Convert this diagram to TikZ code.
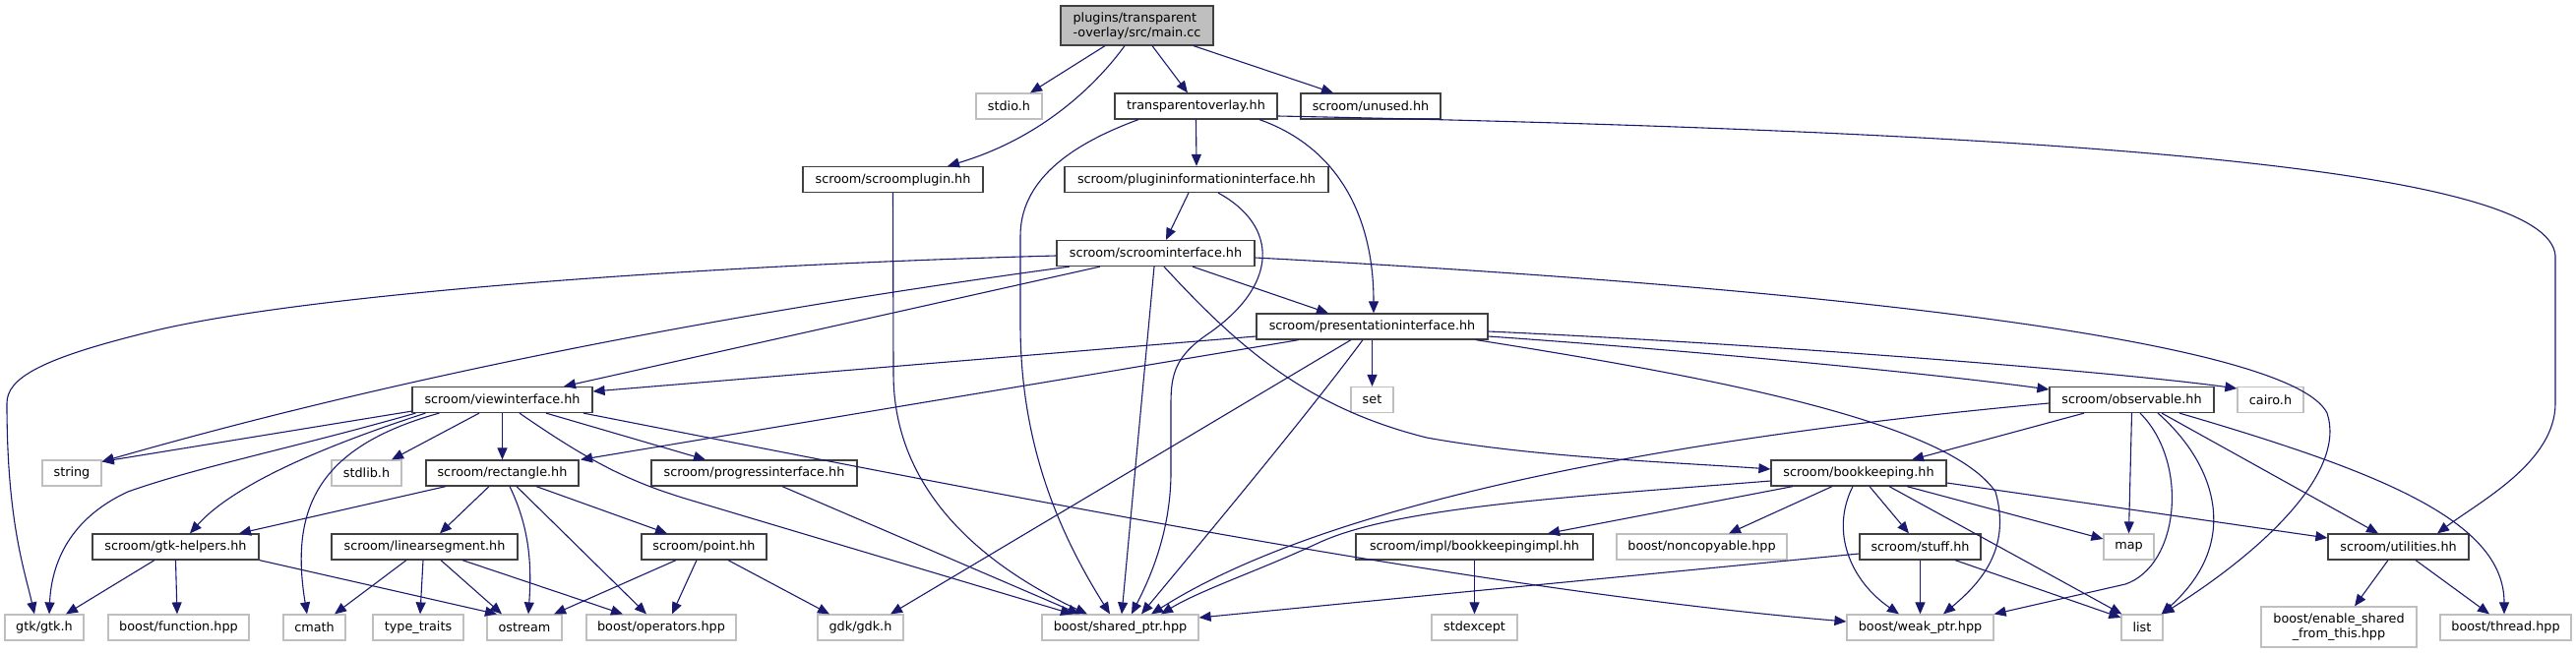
\documentclass[tikz,border=0pt]{standalone}
\usepackage{fontspec}
\setmainfont{DejaVu Sans}
\usetikzlibrary{arrows.meta}
\definecolor{eblue}{HTML}{191970}
\definecolor{dgray}{HTML}{404040}
\definecolor{lgray}{HTML}{BFBFBF}
\newcommand\nodefont{\fontsize{12.8pt}{15pt}\selectfont}
\begin{document}
\begin{tikzpicture}[x=1pt,y=-1pt,
  doc/.style={draw=dgray, line width=1.2pt, fill=white, minimum height=26pt, inner sep=0pt, font=\nodefont, text=black},
  ext/.style={draw=lgray, line width=1.2pt, fill=white, minimum height=26pt, inner sep=0pt, font=\nodefont, text=black},
  edge/.style={draw=eblue, line width=1.1pt, -{Triangle[length=12pt,width=10pt]}, fill=none},
]
\useasboundingbox (0,0) rectangle (2618,664);
% nodes
\node[doc, fill=lgray, minimum width=155pt, minimum height=40pt, align=left] (main) at (1155.5,26) {plugins/transparent\\-overlay/src/main.cc};
\node[ext, minimum width=67pt] (stdio) at (1025.5,108) {stdio.h};
\node[doc, minimum width=165pt] (tov) at (1215.5,108) {transparentoverlay.hh};
\node[doc, minimum width=142pt] (unused) at (1393,108) {scroom/unused.hh};
\node[doc, minimum width=183pt] (splugin) at (907.5,182.5) {scroom/scroomplugin.hh};
\node[doc, minimum width=268pt] (pinfo) at (1216,182.5) {scroom/plugininformationinterface.hh};
\node[doc, minimum width=201pt] (sif) at (1174.5,257.5) {scroom/scroominterface.hh};
\node[doc, minimum width=235pt] (pres) at (1394.5,332) {scroom/presentationinterface.hh};
\node[doc, minimum width=183pt] (view) at (510.5,406.5) {scroom/viewinterface.hh};
\node[ext, minimum width=43pt] (set) at (1394.5,406.5) {set};
\node[doc, minimum width=167pt] (obs) at (2166.5,406.5) {scroom/observable.hh};
\node[ext, minimum width=67pt] (cairo) at (2307.5,406.5) {cairo.h};
\node[ext, minimum width=60pt] (string) at (73,481) {string};
\node[ext, minimum width=71pt] (stdlib) at (372.5,481) {stdlib.h};
\node[doc, minimum width=155pt] (rect) at (510.5,481) {scroom/rectangle.hh};
\node[doc, minimum width=209pt] (prog) at (766.5,481) {scroom/progressinterface.hh};
\node[doc, minimum width=178pt] (bk) at (1889,481) {scroom/bookkeeping.hh};
\node[doc, minimum width=169pt] (gtkh) at (178.5,556) {scroom/gtk-helpers.hh};
\node[doc, minimum width=189pt] (lin) at (431.5,556) {scroom/linearsegment.hh};
\node[doc, minimum width=127pt] (point) at (715.5,556) {scroom/point.hh};
\node[doc, minimum width=241pt] (bki) at (1498.5,556) {scroom/impl/bookkeepingimpl.hh};
\node[ext, minimum width=173pt] (noncopy) at (1729.5,556) {boost/noncopyable.hpp};
\node[doc, minimum width=123pt] (stuff) at (1951.5,556) {scroom/stuff.hh};
\node[ext, minimum width=51pt] (map) at (2163.5,556) {map};
\node[doc, minimum width=143pt] (util) at (2437.5,556) {scroom/utilities.hh};
\node[ext, minimum width=80pt] (gtk) at (45,638) {gtk/gtk.h};
\node[ext, minimum width=143pt] (func) at (181.5,638) {boost/function.hpp};
\node[ext, minimum width=63pt] (cmath) at (319.5,638) {cmath};
\node[ext, minimum width=92pt] (tt) at (425,638) {type\_traits};
\node[ext, minimum width=76pt] (ostream) at (533,638) {ostream};
\node[ext, minimum width=152pt] (ops) at (672,638) {boost/operators.hpp};
\node[ext, minimum width=87pt] (gdk) at (874.5,638) {gdk/gdk.h};
\node[ext, minimum width=159pt] (sp) at (1138.5,638) {boost/shared\_ptr.hpp};
\node[ext, minimum width=87pt] (stdexc) at (1498.5,638) {stdexcept};
\node[ext, minimum width=149pt] (wp) at (1951.5,638) {boost/weak\_ptr.hpp};
\node[ext, minimum width=42pt] (list) at (2177,638) {list};
\node[ext, minimum width=158pt, minimum height=41pt, align=center] (esft) at (2377,637.5) {boost/enable\_shared\\\_from\_this.hpp};
\node[ext, minimum width=133pt] (thread) at (2546.5,638) {boost/thread.hpp};
% main
\draw[edge] ([xshift=-32.5pt]main.south) -- ([xshift=21.5pt]stdio.north);
\draw[edge] ([xshift=-12.5pt]main.south) .. controls (1115,85) and (1060,140) .. ([xshift=55.5pt]splugin.north);
\draw[edge] ([xshift=15.5pt]main.south) -- ([xshift=-8.5pt]tov.north);
\draw[edge] ([xshift=57.5pt]main.south) -- ([xshift=-38pt]unused.north);
% transparentoverlay
\draw[edge] (tov.south) -- (pinfo.north);
\draw[edge] ([xshift=64.5pt]tov.south) .. controls (1360,150) and (1396,220) .. ([xshift=1.5pt]pres.north);
\draw[edge] ([xshift=-58.5pt]tov.south) .. controls (1085,148) and (1037,185) .. (1037,240) -- (1037,330) .. controls (1037,450) and (1075,540) .. ([xshift=-10.5pt]sp.north);
\draw[edge] ([yshift=-10pt]tov.east) .. controls (2150,135) and (2590,175) .. (2597,260) -- (2597,410) .. controls (2597,470) and (2520,510) .. ([xshift=39.5pt]util.north);
% scroomplugin
\draw[edge] (splugin.south) -- (908,380) .. controls (908,500) and (1000,575) .. ([xshift=-33.5pt]sp.north);
% plugininformationinterface
\draw[edge] ([xshift=-8pt]pinfo.south) -- ([xshift=10.5pt]sif.north);
\draw[edge] ([xshift=22pt]pinfo.south) .. controls (1300,230) and (1300,290) .. (1227,340) .. controls (1195,362) and (1190,380) .. (1190,410) -- (1190,480) .. controls (1190,545) and (1165,595) .. ([xshift=11.5pt]sp.north);
% scroominterface
\draw[edge] ([yshift=-2.5pt]sif.west) .. controls (700,270) and (300,300) .. (150,338) .. controls (40,365) and (7,385) .. (7,410) .. controls (7,530) and (25,580) .. ([xshift=-10pt]gtk.north);
\draw[edge] ([xshift=-87.5pt]sif.south) .. controls (800,310) and (450,370) .. ([yshift=-2pt]string.north east);
\draw[edge] ([xshift=-56.5pt]sif.south) -- ([xshift=62.5pt]view.north);
\draw[edge] ([xshift=37.5pt]sif.south) -- ([xshift=-44.5pt]pres.north);
\draw[edge] ([xshift=-1.5pt]sif.south) -- ([xshift=1.5pt]sp.north);
\draw[edge] ([xshift=8.5pt]sif.south) .. controls (1260,355) and (1330,415) .. (1450,445) .. controls (1560,465) and (1700,470) .. ([yshift=4pt]bk.west);
\draw[edge] ([yshift=-4.5pt]sif.east) .. controls (1900,295) and (2330,350) .. (2365,420) .. controls (2385,480) and (2300,560) .. ([xshift=-1pt]list.north east);
% presentationinterface
\draw[edge] ([yshift=-10pt]pres.west) -- ([yshift=8.5pt]view.east);
\draw[edge] ([xshift=-74.5pt]pres.south) -- ([xshift=79.5pt]rect.north);
\draw[edge] (pres.south) -- (set.north);
\draw[edge] ([xshift=-21.5pt]pres.south) -- ([xshift=30.5pt]gdk.north);
\draw[edge] ([xshift=-9.5pt]pres.south) .. controls (1330,420) and (1230,540) .. ([xshift=21.5pt]sp.north);
\draw[edge] ([yshift=-10pt]pres.east) .. controls (1700,355) and (1950,378) .. ([yshift=10.5pt]obs.west);
\draw[edge] ([yshift=-5pt]pres.east) .. controls (1800,350) and (2150,378) .. ([yshift=11.5pt]cairo.west);
\draw[edge] ([xshift=105.5pt]pres.south) .. controls (1750,385) and (1980,430) .. (2028,500) .. controls (2045,560) and (2010,595) .. ([xshift=23.5pt]wp.north);
% viewinterface
\draw[edge] ([yshift=2pt]view.south west) -- ([yshift=-2pt]string.north east);
\draw[edge] ([xshift=4pt]view.south west) .. controls (300,455) and (200,475) .. (130,500) .. controls (65,530) and (52,580) .. ([xshift=5pt]gtk.north);
\draw[edge] ([xshift=14pt]view.south west) .. controls (340,450) and (240,490) .. ([xshift=14.5pt]gtkh.north);
\draw[edge] ([xshift=28pt]view.south west) .. controls (320,455) and (295,520) .. ([xshift=-7.5pt]cmath.north);
\draw[edge] ([xshift=-23.5pt]view.south) -- ([xshift=25.5pt]stdlib.north);
\draw[edge] (view.south) -- (rect.north);
\draw[edge] ([xshift=44.5pt]view.south) -- ([xshift=-49.5pt]prog.north);
\draw[edge] ([xshift=17.5pt]view.south) .. controls (600,470) and (640,490) .. (700,508) -- ([xshift=-48.5pt]sp.north);
\draw[edge] ([xshift=82.5pt]view.south) .. controls (1000,500) and (1500,600) .. ([yshift=6pt]wp.west);
% rectangle
\draw[edge] ([xshift=-57.5pt]rect.south) -- ([xshift=64.5pt]gtkh.north);
\draw[edge] ([xshift=-13.5pt]rect.south) -- ([xshift=15.5pt]lin.north);
\draw[edge] ([xshift=7.5pt]rect.south) .. controls (540,540) and (540,580) .. ([xshift=4pt]ostream.north);
\draw[edge] ([xshift=14.5pt]rect.south) -- ([xshift=-15pt]ops.north);
\draw[edge] ([xshift=34.5pt]rect.south) -- ([xshift=-37.5pt]point.north);
% progressinterface
\draw[edge] ([xshift=28.5pt]prog.south) -- ([xshift=-41.5pt]sp.north);
% gtk-helpers
\draw[edge] ([xshift=-21.5pt]gtkh.south) -- ([xshift=22pt]gtk.north);
\draw[edge] (gtkh.south) -- ([xshift=-1.5pt]func.north);
\draw[edge] (gtkh.south east) -- ([xshift=-28pt]ostream.north);
% linearsegment
\draw[edge] ([xshift=-18.5pt]lin.south) -- ([xshift=20.5pt]cmath.north);
\draw[edge] ([xshift=-1.5pt]lin.south) -- ([xshift=2pt]tt.north);
\draw[edge] ([xshift=16.5pt]lin.south) -- ([xshift=-23pt]ostream.north);
\draw[edge] ([xshift=38.5pt]lin.south) -- ([xshift=-39pt]ops.north);
% point
\draw[edge] ([xshift=-28.5pt]point.south) -- ([xshift=30pt]ostream.north);
\draw[edge] ([xshift=-7.5pt]point.south) -- ([xshift=11pt]ops.north);
\draw[edge] ([xshift=24.5pt]point.south) -- ([xshift=-31.5pt]gdk.north);
% observable
\draw[edge] ([xshift=-48.5pt]obs.south) -- ([xshift=54pt]bk.north);
\draw[edge] (obs.south) -- (map.north);
\draw[edge] ([xshift=8.5pt]obs.south) .. controls (2225,470) and (2215,575) .. (2160,594) -- (wp.north east);
\draw[edge] ([xshift=26.5pt]obs.south) .. controls (2250,470) and (2280,550) .. ([xshift=-2pt]list.north east);
\draw[edge] ([xshift=30.5pt]obs.south) -- ([xshift=-20.5pt]util.north);
\draw[edge] ([xshift=48.5pt]obs.south) .. controls (2420,480) and (2545,530) .. ([xshift=-1.5pt]thread.north);
\draw[edge] ([yshift=-3.5pt]obs.west) .. controls (1700,445) and (1350,510) .. ([xshift=31.5pt]sp.north);
% bookkeeping
\draw[edge] ([yshift=-8pt]bk.west) .. controls (1600,505) and (1420,515) .. (1340,552) .. controls (1280,580) and (1220,600) .. ([xshift=41.5pt]sp.north);
\draw[edge] ([xshift=-67pt]bk.south) -- ([xshift=74.5pt]bki.north);
\draw[edge] ([xshift=-27pt]bk.south) -- ([xshift=27.5pt]noncopy.north);
\draw[edge] ([xshift=-6pt]bk.south) .. controls (1860,540) and (1880,590) .. ([xshift=-21.5pt]wp.north);
\draw[edge] ([xshift=11pt]bk.south) -- ([xshift=-11.5pt]stuff.north);
\draw[edge] ([xshift=31pt]bk.south) -- ([xshift=1pt]list.north west);
\draw[edge] ([xshift=49pt]bk.south) -- ([yshift=8pt]map.west);
\draw[edge] ([yshift=-10pt]bk.east) -- ([yshift=9pt]util.west);
% stuff
\draw[edge] ([yshift=-7pt]stuff.west) -- ([yshift=10pt]sp.east);
\draw[edge] (stuff.south) -- (wp.north);
\draw[edge] ([xshift=35.5pt]stuff.south) -- ([yshift=10pt]list.west);
% utilities
\draw[edge] ([xshift=-10.5pt]util.south) -- ([xshift=16pt]esft.north);
\draw[edge] ([xshift=17.5pt]util.south) -- ([xshift=-16.5pt]thread.north);
% bookkeepingimpl
\draw[edge] (bki.south) -- (stdexc.north);
\end{tikzpicture}
\end{document}
